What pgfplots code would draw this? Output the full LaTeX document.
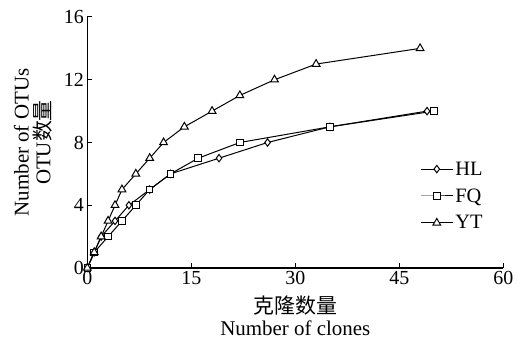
\documentclass[border=0pt]{standalone}
\usepackage{fontspec}
\setmainfont{Liberation Serif}
\newfontfamily\cjk{Noto Sans CJK SC}
\usepackage{pgfplots}
\pgfplotsset{compat=1.18}
\begin{document}
\begin{tikzpicture}
\path[use as bounding box] (-87.3bp,-78bp) rectangle (439.7bp,268bp);
\begin{axis}[
  scale only axis,
  width=416bp, height=251bp,
  xmin=0, xmax=60, ymin=0, ymax=16,
  xtick={0,15,30,45,60}, ytick={0,4,8,12,16},
  axis lines=left,
  axis line style={-, line width=1.1pt},
  tick style={line width=1pt, black},
  major tick length=5bp,
  tick align=inside,
  clip=false,
  /pgf/number format/assume math mode=true,
  ticklabel style={font=\fontsize{20}{21}\selectfont},
  xlabel={\cjk 克隆数量\\Number of clones},
  ylabel={Number of OTUs\\OTU{\cjk 数量}},
  xlabel style={at={(axis description cs:0.5,-0.191)}, anchor=center, align=center, font=\fontsize{21}{22}\selectfont},
  ylabel style={at={(axis description cs:-0.1305,0.5)}, anchor=center, align=center, font=\fontsize{21}{22}\selectfont},
  legend style={draw=none, fill=none, at={(axis cs:48.0,4.59)}, anchor=west, inner sep=0pt, row sep=8bp, font=\fontsize{20.5}{22}\selectfont, /tikz/every even column/.append style={column sep=3bp}},
  legend cell align=left,
  legend image code/.code={\draw[mark repeat=2,mark phase=2,#1] plot coordinates {(0bp,0bp) (16bp,0bp) (32bp,0bp)};},
  every axis plot/.append style={black, line width=1pt, mark options={fill=white, solid, line width=1pt}},
]
\addplot[mark=diamond*, mark size=3.7pt] coordinates {
(0,0) (1,1) (2,2) (4,3) (6,4) (9,5) (12,6) (19,7) (26,8) (35,9) (49,10)};
\addlegendentry{HL}
\addplot[mark=square*, mark size=3.3pt] coordinates {
(0,0) (1,1) (3,2) (5,3) (7,4) (9,5) (12,6) (16,7) (22,8) (35,9) (50,10)};
\addlegendentry{FQ}
\addplot[mark=triangle*, mark size=4.5pt] coordinates {
(0,0) (1,1) (2,2) (3,3) (4,4) (5,5) (7,6) (9,7) (11,8) (14,9) (18,10) (22,11) (27,12) (33,13) (48,14)};
\addlegendentry{YT}
\end{axis}
\end{tikzpicture}
\end{document}
